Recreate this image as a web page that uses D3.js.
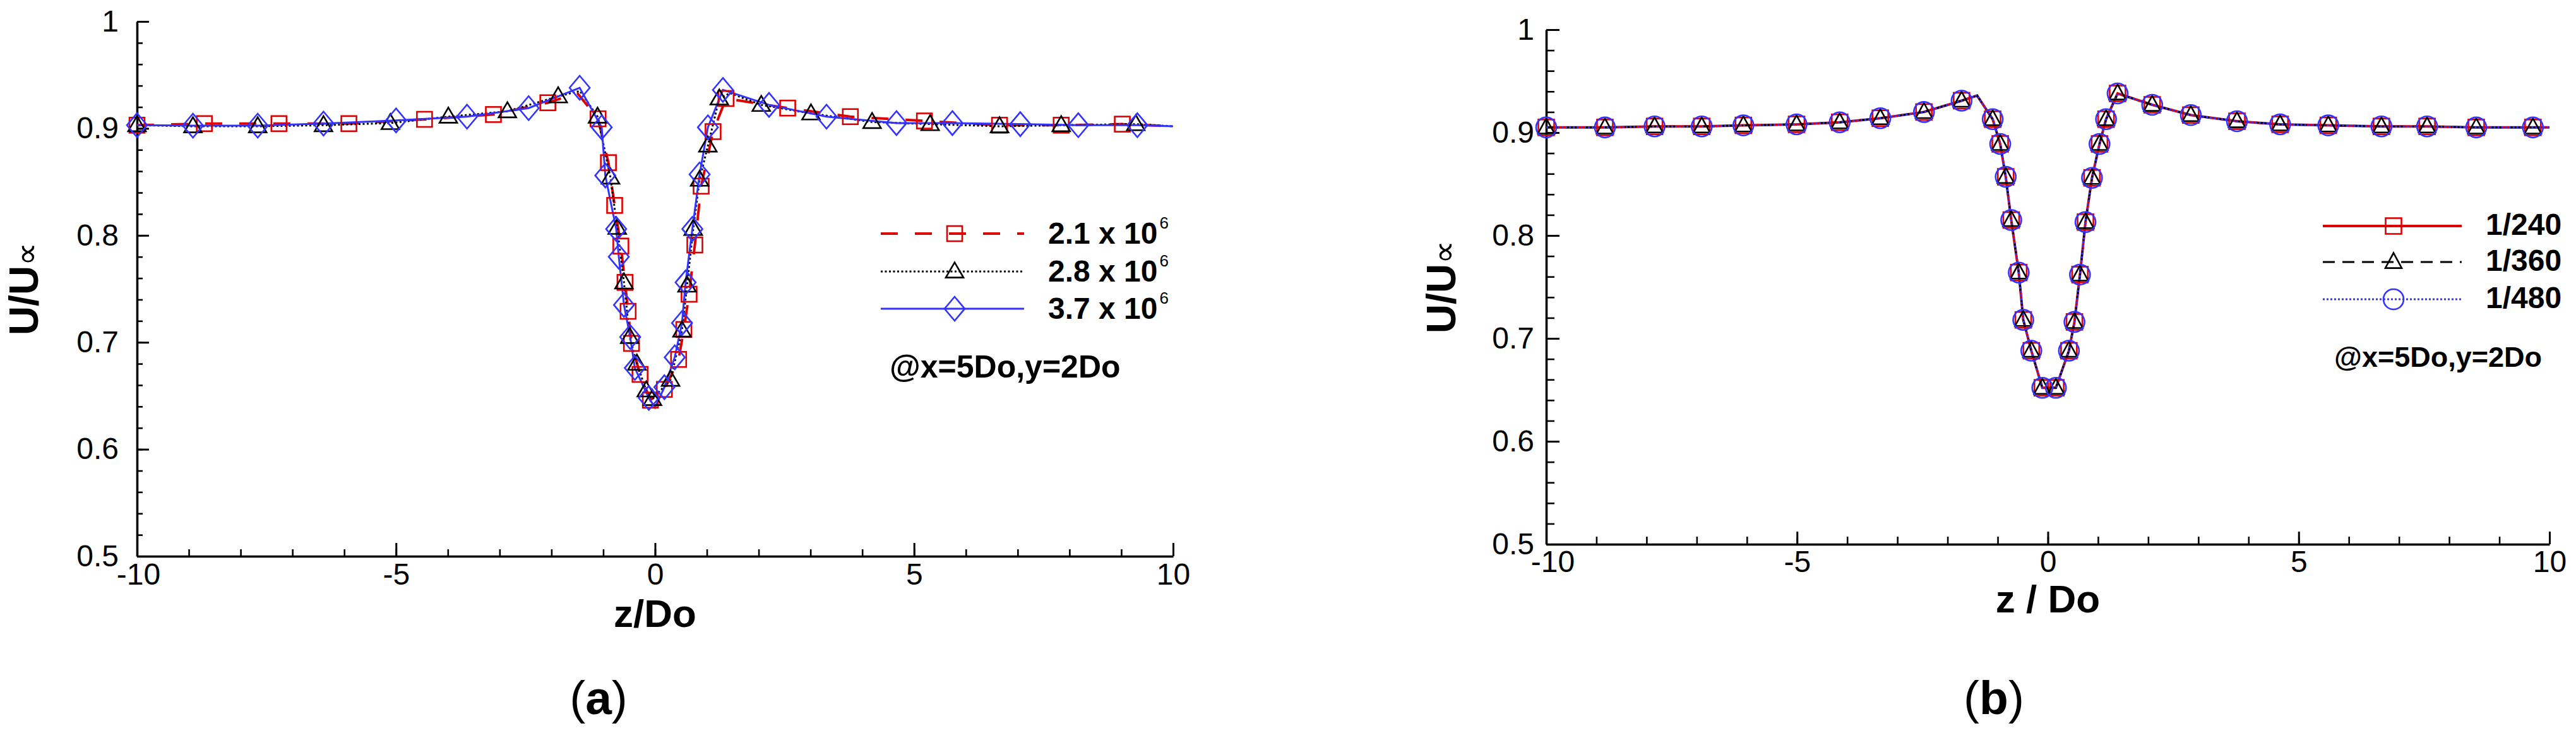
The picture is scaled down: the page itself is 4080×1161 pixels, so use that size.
<!DOCTYPE html>
<html>
<head>
<meta charset="utf-8">
<script src="https://cdnjs.cloudflare.com/ajax/libs/d3/7.8.5/d3.min.js"></script>
<style>
  body { margin: 0; background: #fff; }
  svg text { font-family: "Liberation Sans", Arial, sans-serif; }
</style>
</head>
<body>
<svg id="chart" width="4080" height="1161"></svg>
<script>
// Axis ticks (both panels)
const xTicks = [-10, -5, 0, 5, 10];
const yTicks = [0.5, 0.6, 0.7, 0.8, 0.9, 1];

// Panel (a): Reynolds number study, marker readings [z/Do, U/Uinf]
const reLabels = ["2.1 x 10", "2.8 x 10", "3.7 x 10"];
const re21 = [[-10, 0.903], [-8.70, 0.9045], [-7.26, 0.9045], [-5.91, 0.9045], [-4.45, 0.9085],
  [-3.12, 0.913], [-2.07, 0.924], [-1.10, 0.909], [-0.90, 0.868], [-0.78, 0.828], [-0.66, 0.790],
  [-0.58, 0.756], [-0.52, 0.729], [-0.455, 0.699], [-0.29, 0.670], [-0.09, 0.646], [0.18, 0.656],
  [0.455, 0.684], [0.556, 0.712], [0.657, 0.745], [0.768, 0.791], [0.89, 0.846], [1.12, 0.897],
  [1.37, 0.928], [2.56, 0.919], [3.77, 0.911], [5.2, 0.907], [6.65, 0.903], [7.84, 0.903], [9.02, 0.904]];
const re28 = [[-10, 0.903], [-8.92, 0.902], [-7.67, 0.902], [-6.40, 0.903], [-5.11, 0.905],
  [-3.99, 0.911], [-2.85, 0.916], [-1.87, 0.930], [-1.11, 0.911], [-0.86, 0.854], [-0.73, 0.807],
  [-0.60, 0.756], [-0.49, 0.705], [-0.35, 0.680], [-0.17, 0.655], [-0.05, 0.647], [0.30, 0.665],
  [0.52, 0.711], [0.617, 0.753], [0.737, 0.806], [0.86, 0.852], [1.02, 0.884], [1.24, 0.928],
  [2.05, 0.922], [3.01, 0.914], [4.19, 0.906], [5.31, 0.904], [6.65, 0.902], [7.84, 0.903], [9.28, 0.904]];
const re37 = [[-10, 0.903], [-8.92, 0.9026], [-7.67, 0.9026], [-6.40, 0.9045], [-5.0, 0.9075],
  [-3.63, 0.911], [-2.44, 0.919], [-1.455, 0.938], [-1.03, 0.901], [-0.96, 0.856], [-0.75, 0.806],
  [-0.70, 0.780], [-0.60, 0.735], [-0.48, 0.705], [-0.39, 0.676], [-0.12, 0.648], [0.18, 0.658],
  [0.38, 0.686], [0.52, 0.718], [0.59, 0.756], [0.72, 0.806], [0.86, 0.857], [1.02, 0.901],
  [1.31, 0.936], [2.20, 0.922], [3.31, 0.911], [4.66, 0.905], [5.74, 0.905], [7.05, 0.904],
  [8.17, 0.903], [9.31, 0.903]];
// curve points between markers (peaks, dip, end of line)
const re21Curve = [[-1.5, 0.933], [10, 0.902]];
const re28Curve = [[-1.45, 0.935], [1.45, 0.933], [10, 0.902]];
const re37Curve = [[0.0, 0.639], [10, 0.902]];

// Panel (b): grid study, marker readings
const gridLabels = ["1/240", "1/360", "1/480"];
const gridZ = [-10, -8.83, -7.84, -6.90, -6.07, -5.01, -4.15, -3.34, -2.47, -1.72, -1.10, -0.95,
  -0.84, -0.73, -0.58, -0.49, -0.33, -0.11, 0.16, 0.42, 0.53, 0.64, 0.75, 0.88, 1.03, 1.16, 1.39,
  2.08, 2.85, 3.77, 4.63, 5.59, 6.65, 7.56, 8.54, 9.67];
const g240 = [0.905, 0.905, 0.906, 0.906, 0.907, 0.908, 0.910, 0.914, 0.920, 0.931, 0.913, 0.889,
  0.857, 0.815, 0.764, 0.718, 0.688, 0.652, 0.652, 0.688, 0.716, 0.762, 0.813, 0.856, 0.889, 0.913,
  0.938, 0.927, 0.917, 0.911, 0.908, 0.907, 0.906, 0.906, 0.905, 0.905];
const g360 = [0.905, 0.905, 0.906, 0.906, 0.907, 0.908, 0.910, 0.914, 0.920, 0.931, 0.913, 0.889,
  0.857, 0.815, 0.764, 0.718, 0.688, 0.652, 0.652, 0.688, 0.716, 0.762, 0.813, 0.856, 0.889, 0.913,
  0.938, 0.927, 0.917, 0.911, 0.908, 0.907, 0.906, 0.906, 0.905, 0.905];
const g480 = [0.905, 0.905, 0.906, 0.906, 0.907, 0.908, 0.910, 0.914, 0.920, 0.931, 0.913, 0.889,
  0.857, 0.815, 0.764, 0.718, 0.688, 0.652, 0.652, 0.688, 0.716, 0.762, 0.813, 0.856, 0.889, 0.913,
  0.938, 0.927, 0.917, 0.911, 0.908, 0.907, 0.906, 0.906, 0.905, 0.905];
const gridCurve = [[-1.41, 0.936], [10, 0.905]];

const RED = "#dd0000", BLUE = "#3333ff", BLACK = "#000";
const svg = d3.select("#chart");
svg.append("rect").attr("width", 4080).attr("height", 1161).attr("fill", "#fff");

// draw one marker shape
function marker(g, type, cx, cy, color, sz) {
  let p;
  if (type === "square") {
    p = g.append("rect").attr("x", cx - sz.w / 2).attr("y", cy - sz.h / 2)
      .attr("width", sz.w).attr("height", sz.h);
  } else if (type === "circle") {
    p = g.append("circle").attr("cx", cx).attr("cy", cy).attr("r", sz.w / 2);
  } else if (type === "triangle") {
    p = g.append("path").attr("d", "M" + cx + "," + (cy - sz.h * 0.6) +
      "L" + (cx + sz.w / 2) + "," + (cy + sz.h * 0.4) +
      "L" + (cx - sz.w / 2) + "," + (cy + sz.h * 0.4) + "Z");
  } else {
    p = g.append("path").attr("d", "M" + cx + "," + (cy - sz.h / 2) +
      "L" + (cx + sz.w / 2) + "," + cy + "L" + cx + "," + (cy + sz.h / 2) +
      "L" + (cx - sz.w / 2) + "," + cy + "Z");
  }
  p.attr("fill", "none").attr("stroke", color).attr("stroke-width", 2.6);
}

function drawPanel(cfg) {
  const g = svg.append("g");
  const x = d3.scaleLinear().domain([-10, 10]).range([cfg.left, cfg.right]);
  const y = d3.scaleLinear().domain([0.5, 1]).range([cfg.bottom, cfg.top]);

  // minor ticks
  const mx = g.append("g").attr("transform", "translate(0," + cfg.bottom + ")")
    .call(d3.axisBottom(x).tickValues(d3.range(-10, 10.5, 1)).tickSize(-cfg.minorX).tickFormat(""));
  const my = g.append("g").attr("transform", "translate(" + cfg.left + ",0)")
    .call(d3.axisLeft(y).tickValues(d3.range(0.5, 1.001, 0.02)).tickSize(-cfg.minorY).tickFormat(""));
  [mx, my].forEach(a => {
    a.select(".domain").remove();
    a.selectAll("line").attr("stroke", "#000").attr("stroke-width", 2.6);
  });

  // major ticks + labels
  const ax = g.append("g").attr("transform", "translate(0," + cfg.bottom + ")")
    .call(d3.axisBottom(x).tickValues(xTicks).tickSize(-cfg.majorX).tickSizeOuter(0)
      .tickPadding(cfg.padX).tickFormat(d => String(d)));
  const ay = g.append("g").attr("transform", "translate(" + cfg.left + ",0)")
    .call(d3.axisLeft(y).tickValues(yTicks).tickSize(-cfg.majorY).tickSizeOuter(0)
      .tickPadding(cfg.padY).tickFormat(d => String(d)));
  [ax, ay].forEach(a => {
    a.attr("font-size", 48).attr("font-family", "Liberation Sans, Arial, sans-serif");
    a.select(".domain").attr("stroke", "#000").attr("stroke-width", 3.6);
    a.selectAll("line").attr("stroke", "#000").attr("stroke-width", 3);
    a.selectAll("text").attr("fill", "#000");
  });
  // the -10 label sits just right of the 0.5 label, as in the original
  ax.selectAll("text").filter(d => d === -10).attr("dx", cfg.firstDx);

  // series
  const line = d3.line().x(d => x(d[0])).y(d => y(d[1]));
  cfg.series.forEach(s => {
    const curve = s.pts.concat(s.curve).sort((a, b) => a[0] - b[0]);
    g.append("path").attr("d", line(curve)).attr("fill", "none")
      .attr("stroke", s.color).attr("stroke-width", s.width)
      .attr("stroke-dasharray", s.dash || null);
  });
  cfg.series.forEach(s => {
    const mg = g.append("g");
    s.pts.forEach(d => marker(mg, s.marker, x(d[0]), y(d[1]), s.color, s.size));
  });

  // legend
  cfg.series.forEach((s, i) => {
    const ly = cfg.legY[i];
    g.append("line").attr("x1", cfg.legX0).attr("x2", cfg.legX1).attr("y1", ly).attr("y2", ly)
      .attr("stroke", s.color).attr("stroke-width", s.width).attr("stroke-dasharray", s.dash || null);
    marker(g, s.marker, cfg.legM, ly, s.color, s.size);
    const t = g.append("text").attr("x", cfg.legT).attr("y", ly + cfg.legDy)
      .attr("font-size", cfg.legFont).attr("font-weight", "bold").text(s.label);
    if (cfg.sup) {
      t.append("tspan").attr("dx", 3).attr("dy", -24).attr("font-size", 26)
        .attr("font-weight", "normal").text("6");
    }
  });
  g.append("text").attr("x", cfg.noteX).attr("y", cfg.noteY).attr("font-size", cfg.noteFont)
    .attr("font-weight", "bold").text("@x=5Do,y=2Do");

  // axis titles
  g.append("text").attr("x", x(0)).attr("y", cfg.xTitleY).attr("text-anchor", "middle")
    .attr("font-size", 62).attr("font-weight", "bold").text(cfg.xTitle);
  const yt = g.append("text").attr("text-anchor", "middle")
    .attr("transform", "translate(" + cfg.yTitleX + "," + y(0.75) + ") rotate(-90)")
    .attr("font-size", 64).attr("font-weight", "bold");
  yt.append("tspan").text("U/U");
  yt.append("tspan").attr("font-weight", "normal").attr("font-size", 52).text("\u221D");

  // caption
  const cap = svg.append("text").attr("x", cfg.capX).attr("y", 1131).attr("text-anchor", "middle")
    .attr("font-family", "Liberation Serif, Times New Roman, serif").attr("font-size", 75);
  cap.append("tspan").text("(");
  cap.append("tspan").attr("font-weight", "bold").text(cfg.cap);
  cap.append("tspan").text(")");
}

drawPanel({
  left: 217, right: 1858, top: 34, bottom: 881,
  majorX: 21, minorX: 11, majorY: 19, minorY: 9, padX: 11, padY: 29, firstDx: 2,
  xTitle: "z/Do", xTitleY: 993, yTitleX: 60, capX: 948, cap: "a",
  legY: [370, 430, 489], legX0: 1395, legX1: 1622, legM: 1512, legT: 1660, legDy: 16,
  legFont: 48, sup: true, noteX: 1409, noteY: 598, noteFont: 50,
  series: [
    { label: reLabels[0], pts: re21, curve: re21Curve, color: RED, width: 4, dash: "27,27",
      marker: "square", size: { w: 24, h: 24 } },
    { label: reLabels[1], pts: re28, curve: re28Curve, color: BLACK, width: 3, dash: "3,3.5",
      marker: "triangle", size: { w: 28, h: 24 } },
    { label: reLabels[2], pts: re37, curve: re37Curve, color: BLUE, width: 3, dash: null,
      marker: "diamond", size: { w: 32, h: 38 } }
  ]
});

drawPanel({
  left: 2449, right: 4038, top: 47, bottom: 862,
  majorX: 20, minorX: 12, majorY: 21, minorY: 13, padX: 10, padY: 19, firstDx: 10,
  xTitle: "z / Do", xTitleY: 970, yTitleX: 2305, capX: 3158, cap: "b",
  legY: [358, 415, 474], legX0: 3679, legX1: 3899, legM: 3791, legT: 3937, legDy: 14,
  legFont: 48, sup: false, noteX: 3697, noteY: 581, noteFont: 45,
  series: [
    { label: gridLabels[0], pts: gridZ.map((z, i) => [z, g240[i]]), curve: gridCurve, color: RED,
      width: 4, dash: null, marker: "square", size: { w: 25, h: 25 } },
    { label: gridLabels[1], pts: gridZ.map((z, i) => [z, g360[i]]), curve: gridCurve, color: BLACK,
      width: 3, dash: "19,12", marker: "triangle", size: { w: 26, h: 24 } },
    { label: gridLabels[2], pts: gridZ.map((z, i) => [z, g480[i]]), curve: gridCurve, color: BLUE,
      width: 3, dash: "3,3", marker: "circle", size: { w: 32, h: 32 } }
  ]
});
</script>
</body>
</html>
